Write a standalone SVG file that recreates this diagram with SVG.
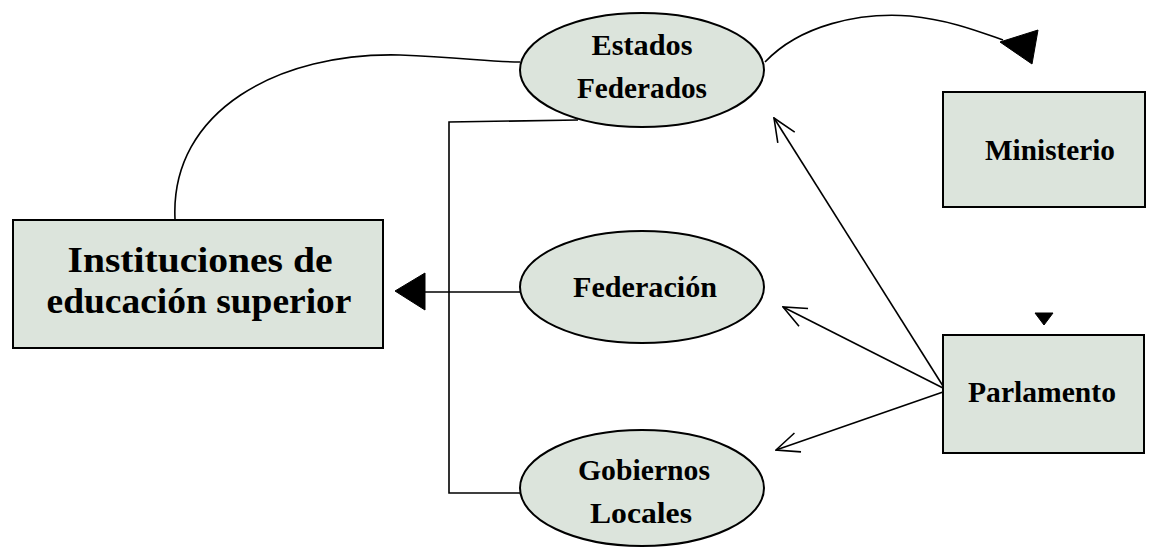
<svg xmlns="http://www.w3.org/2000/svg" width="1154" height="550" viewBox="0 0 1154 550">
  <style>
    .node { fill: #dce4dc; stroke: #000; stroke-width: 2; }
    .lbl { font-family: "Liberation Serif", "Times New Roman", serif; font-weight: bold; fill: #000; text-anchor: middle; }
    .lbl-sm { font-size: 29px; }
    .lbl-lg { font-size: 35px; }
    .wire { fill: none; stroke: #000; stroke-width: 1.6; }
    .head { fill: #000; stroke: #000; stroke-width: 1; }
  </style>
  <defs>
    <!-- open V arrowhead, tip at the line end -->
    <marker id="open" markerWidth="30" markerHeight="30" refX="29" refY="10" orient="auto" markerUnits="userSpaceOnUse" viewBox="0 0 30 20">
      <path d="M6,0 L29,10 L6,20" fill="none" stroke="#000" stroke-width="1.6"/>
    </marker>
  </defs>

  <!-- connectors -->
  <g id="connectors">
    <!-- Instituciones to Estados Federados -->
    <path class="wire" d="M175,219 C170,110 280,52 400,55 C460,57 490,62 520,62"/>
    <!-- Estados Federados towards Ministerio -->
    <path class="wire" d="M765,62 C800,25 860,12 910,16 C950,20 980,32 1003,40"/>
    <polygon class="head" points="1000,42 1038,30 1032,64"/>
    <!-- bracket joining the three ellipses -->
    <path class="wire" d="M578,120 L449,122 L449,493 L520,493"/>
    <!-- Federación to Instituciones -->
    <path class="wire" d="M520,292 L425,292"/>
    <polygon class="head" points="395,291 425,273 425,310"/>
    <!-- Parlamento fan-out -->
    <path class="wire" d="M943,386 L774,118" marker-end="url(#open)"/>
    <path class="wire" d="M943,388 L783,307" marker-end="url(#open)"/>
    <path class="wire" d="M943,392 L776,450" marker-end="url(#open)"/>
    <!-- small marker above Parlamento -->
    <polygon class="head" points="1035,313 1053,313 1044,325"/>
  </g>

  <g id="instituciones">
    <rect class="node" x="13" y="220" width="370" height="128"/>
    <text class="lbl lbl-lg" x="200" y="272" textLength="265" lengthAdjust="spacingAndGlyphs">Instituciones de</text>
    <text class="lbl lbl-lg" x="199" y="313" textLength="305" lengthAdjust="spacingAndGlyphs">educación superior</text>
  </g>

  <g id="estados-federados">
    <ellipse class="node" cx="642" cy="70" rx="122" ry="57"/>
    <text class="lbl lbl-sm" x="642" y="55" textLength="101" lengthAdjust="spacingAndGlyphs">Estados</text>
    <text class="lbl lbl-sm" x="642" y="98" textLength="130" lengthAdjust="spacingAndGlyphs">Federados</text>
  </g>

  <g id="federacion">
    <ellipse class="node" cx="642" cy="287" rx="122" ry="56"/>
    <text class="lbl lbl-sm" x="645" y="297" textLength="144" lengthAdjust="spacingAndGlyphs">Federación</text>
  </g>

  <g id="gobiernos-locales">
    <ellipse class="node" cx="642" cy="488" rx="122" ry="58"/>
    <text class="lbl lbl-sm" x="644" y="480" textLength="132" lengthAdjust="spacingAndGlyphs">Gobiernos</text>
    <text class="lbl lbl-sm" x="641" y="523" textLength="102" lengthAdjust="spacingAndGlyphs">Locales</text>
  </g>

  <g id="ministerio">
    <rect class="node" x="943" y="92" width="202" height="115"/>
    <text class="lbl lbl-sm" x="1050" y="160" textLength="130" lengthAdjust="spacingAndGlyphs">Ministerio</text>
  </g>

  <g id="parlamento">
    <rect class="node" x="943" y="335" width="201" height="118"/>
    <text class="lbl lbl-sm" x="1042" y="402" textLength="148" lengthAdjust="spacingAndGlyphs">Parlamento</text>
  </g>
</svg>
